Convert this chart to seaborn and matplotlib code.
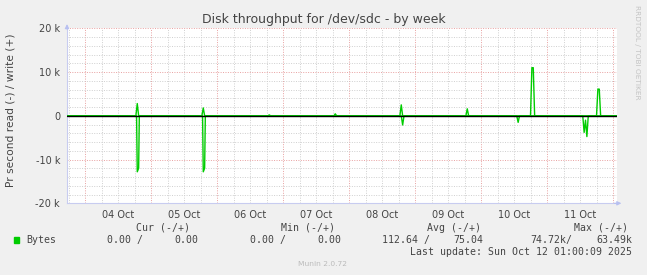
import matplotlib
matplotlib.use("Agg")
import matplotlib.pyplot as plt
import matplotlib.dates as mdates
from matplotlib.ticker import FixedLocator, FuncFormatter, MultipleLocator
import seaborn as sns
import pandas as pd

# ---------------- data ----------------
write_times = [
    "2025-10-03 17:27",
    "2025-10-04 18:30", "2025-10-04 19:00", "2025-10-04 19:30",
    "2025-10-05 18:30", "2025-10-05 19:00", "2025-10-05 19:30",
    "2025-10-06 18:30", "2025-10-06 19:00", "2025-10-06 19:30",
    "2025-10-07 18:30", "2025-10-07 19:00", "2025-10-07 19:30",
    "2025-10-08 18:30", "2025-10-08 19:00", "2025-10-08 19:30",
    "2025-10-09 18:30", "2025-10-09 19:00", "2025-10-09 19:30",
    "2025-10-10 18:00", "2025-10-10 18:30", "2025-10-10 19:00", "2025-10-10 19:30",
    "2025-10-11 18:00", "2025-10-11 18:30", "2025-10-11 19:00", "2025-10-11 19:30",
    "2025-10-12 01:27",
]
write_values = [
    0,
    0, 2800, 0,
    0, 1800, 0,
    0, 200, 0,
    0, 450, 0,
    0, 2500, 0,
    0, 1600, 0,
    0, 11000, 11000, 0,
    0, 6100, 6100, 0,
    0,
]
read_times = [
    "2025-10-03 17:27",
    "2025-10-04 18:45", "2025-10-04 19:00", "2025-10-04 19:30", "2025-10-04 19:45",
    "2025-10-05 18:45", "2025-10-05 19:00", "2025-10-05 19:30", "2025-10-05 19:45",
    "2025-10-08 19:00", "2025-10-08 19:30", "2025-10-08 20:00",
    "2025-10-10 13:00", "2025-10-10 13:30", "2025-10-10 14:00",
    "2025-10-11 13:00", "2025-10-11 13:30", "2025-10-11 14:00", "2025-10-11 14:30", "2025-10-11 15:00",
    "2025-10-12 01:27",
]
read_values = [
    0,
    0, 12800, 12000, 0,
    0, 12800, 12000, 0,
    0, 2100, 0,
    0, 1500, 0,
    0, 3800, 1000, 4750, 0,
    0,
]

y_ticks = [-20000, -10000, 0, 10000, 20000]
y_tick_labels = ["-20 k", "-10 k", "0", "10 k", "20 k"]
x_start, x_end = "2025-10-03 17:27", "2025-10-12 01:27"

title = "Disk throughput for /dev/sdc - by week"
y_label = "Pr second read (-) / write (+)"
legend_headers = ["Cur (-/+)", "Min (-/+)", "Avg (-/+)", "Max (-/+)"]
series_name = "Bytes"
legend_read = ["0.00 /", "0.00 /", "112.64 /", "74.72k/"]
legend_write = ["0.00", "0.00", "75.04", "63.49k"]
last_update = "Last update: Sun Oct 12 01:00:09 2025"
footer = "Munin 2.0.72"
watermark = "RRDTOOL / TOBI OETIKER"

# ---------------- figure ----------------
W, H = 647, 275
sns.set_style("white")
plt.rcParams["font.family"] = ["DejaVu Sans"]
GREEN = "#00CC00"
TXT = "#444444"

fig = plt.figure(figsize=(W / 100, H / 100), dpi=100, facecolor="#F0F0F0")
L, R, T, B = 67, 617, 28.3, 203.3
ax = fig.add_axes([L / W, 1 - B / H, (R - L) / W, (B - T) / H])
ax.set_facecolor("white")

dfw = pd.DataFrame({"time": pd.to_datetime(write_times), "value": write_values})
dfr = pd.DataFrame({"time": pd.to_datetime(read_times), "value": [-v for v in read_values]})

ax.set_xlim(pd.Timestamp(x_start), pd.Timestamp(x_end))
ax.set_ylim(-20000, 20000)

# grid
grid_kw = dict(linestyle=(0, (1, 1.5)), linewidth=0.7)
ax.yaxis.set_major_locator(FixedLocator(y_ticks))
ax.yaxis.set_major_formatter(FuncFormatter(
    lambda v, p: y_tick_labels[y_ticks.index(int(round(v)))] if int(round(v)) in y_ticks else ""))
ax.yaxis.set_minor_locator(MultipleLocator(2000))
ax.xaxis.set_major_locator(mdates.HourLocator(byhour=[12]))
ax.xaxis.set_major_formatter(mdates.DateFormatter("%d Oct"))
ax.xaxis.set_minor_locator(mdates.HourLocator(byhour=[6, 18]))
ax.grid(True, which="minor", axis="both", color="#CFCFCF", **grid_kw)
ax.grid(True, which="major", axis="x", color="#CFCFCF", **grid_kw)
ax.grid(True, which="major", axis="y", color="#E8A0A0", **grid_kw)
for d in pd.date_range("2025-10-04", "2025-10-12", freq="D"):
    ax.axvline(d, color="#E8A0A0", zorder=0.5, **grid_kw)
ax.set_axisbelow(True)

sns.lineplot(data=dfw, x="time", y="value", color=GREEN, linewidth=1.0, ax=ax, zorder=3)
sns.lineplot(data=dfr, x="time", y="value", color=GREEN, linewidth=1.0, ax=ax, zorder=3)
ax.axhline(0, color="black", linewidth=1.0, zorder=4)

ax.set_xlabel("")
ax.set_ylabel(y_label, fontsize=7.7, color=TXT)
ax.yaxis.set_label_coords(-(L - 10.7) / (R - L), (B - 110) / (B - T))
ax.yaxis.label.set_va("center")
ax.tick_params(axis="both", which="both", length=2, width=0.6, color="#C0C0C0",
               labelsize=7, labelcolor=TXT, pad=3)
ax.tick_params(axis="x", which="major", length=0, pad=5)
ax.tick_params(axis="x", which="minor", length=0)

for s in ["top", "right"]:
    ax.spines[s].set_visible(False)
for s in ["left", "bottom"]:
    ax.spines[s].set_color("#C8CCF0")
    ax.spines[s].set_linewidth(0.8)
ax.annotate("", xy=(0, 1.04), xytext=(0, 0.98), xycoords="axes fraction",
            arrowprops=dict(arrowstyle="-|>", color="#B8C0F0", lw=0.8, mutation_scale=6),
            annotation_clip=False)
ax.annotate("", xy=(1.013, 0), xytext=(0.99, 0), xycoords="axes fraction",
            arrowprops=dict(arrowstyle="-|>", color="#B8C0F0", lw=0.8, mutation_scale=6),
            annotation_clip=False)


def ftext(x, y, s, va="center", **kw):
    fig.text(x / W, 1 - y / H, s, va=va, **kw)


ftext(323.5, 19, title, ha="center", fontsize=9, color=TXT)
ftext(637.3, 5, watermark, ha="center", va="top", rotation=270, fontsize=5.3, color="#C4C4C4")

mono = dict(family="DejaVu Sans Mono", fontsize=7.1, color=TXT)
for x, s in zip([136.2, 281.4, 427, 573.6], legend_headers):
    ftext(x, 227.7, s, ha="left", **mono)
fig.patches.append(plt.Rectangle((14 / W, 1 - 242.7 / H), 5.4 / W, 5.4 / H,
                                 transform=fig.transFigure, color=GREEN, figure=fig))
ftext(26, 240, series_name, ha="left", **mono)
for x, s in zip([107.3, 250.5, 381.7, 530.2], legend_read):
    ftext(x, 240, s, ha="left", **mono)
for x, s in zip([198, 341.2, 483.6, 632.1], legend_write):
    ftext(x, 240, s, ha="right", **mono)
ftext(632.1, 251.7, last_update, ha="right", **mono)
ftext(322.7, 264.3, footer, ha="center", fontsize=5.4, color="#BBBBBB")

fig.savefig("out.png", dpi=100, facecolor=fig.get_facecolor())
